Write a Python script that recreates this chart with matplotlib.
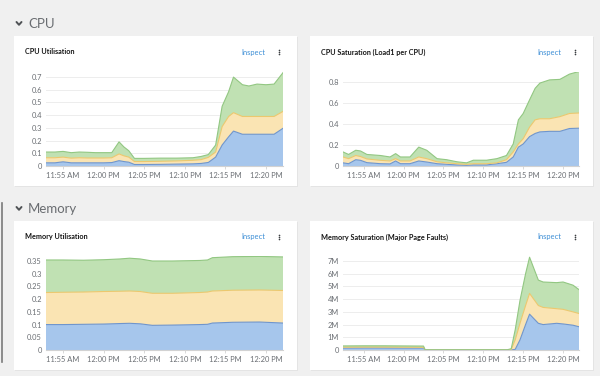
import numpy as np
import matplotlib
matplotlib.use("Agg")
import matplotlib.pyplot as plt
from matplotlib.patches import Rectangle
from matplotlib.ticker import FuncFormatter

plt.rcParams['font.family'] = ['Lato', 'DejaVu Sans']

# ---------------- data (x = minutes after 11:55 AM) ----------------
tick_pos = [0, 5, 10, 15, 20, 25]
tick_labels = ["11:55 AM", "12:00 PM", "12:05 PM", "12:10 PM", "12:15 PM", "12:20 PM"]

cpu_util_t = [-2.1, -1, 0, 1, 2, 3, 4, 5, 6, 6.9, 7.5, 8.1, 8.8, 10, 12, 14, 16, 17,
              17.9, 18.8, 19.6, 20.4, 21.0, 22.1, 22.9, 23.9, 25, 26.0, 27.1]
cpu_util_blue = [0.025, 0.025, 0.033, 0.025, 0.025, 0.025, 0.025, 0.025, 0.027, 0.042, 0.035,
                 0.030, 0.012, 0.012, 0.013, 0.015, 0.017, 0.020, 0.028, 0.070, 0.165, 0.230,
                 0.275, 0.250, 0.250, 0.250, 0.250, 0.250, 0.297]
cpu_util_yellow = [0.040, 0.040, 0.037, 0.037, 0.040, 0.038, 0.038, 0.038, 0.038, 0.053, 0.045,
                   0.040, 0.023, 0.023, 0.024, 0.025, 0.028, 0.030, 0.040, 0.040, 0.145, 0.160,
                   0.145, 0.140, 0.140, 0.140, 0.140, 0.140, 0.133]
cpu_util_green = [0.045, 0.045, 0.045, 0.043, 0.045, 0.045, 0.042, 0.042, 0.040, 0.095, 0.070,
                  0.050, 0.025, 0.025, 0.025, 0.022, 0.020, 0.025, 0.022, 0.055, 0.160, 0.195,
                  0.280, 0.250, 0.240, 0.255, 0.250, 0.255, 0.305]

cpu_sat_t = [-2.6, -1.9, -1.0, -0.4, 0.4, 2.1, 3.3, 4.0, 4.6, 5.8, 6.9, 7.9, 9.2, 10.4, 11.7,
             12.9, 13.75, 15.4, 16.7, 17.9, 18.75, 19.4, 20.0, 20.8, 21.5, 22.1, 23.3, 24.6,
             25.8, 27.0]
cpu_sat_blue = [0.030, 0.022, 0.060, 0.054, 0.032, 0.022, 0.020, 0.048, 0.022, 0.022, 0.048,
                0.038, 0.022, 0.016, 0.010, 0.006, 0.010, 0.010, 0.022, 0.035, 0.086, 0.180,
                0.210, 0.280, 0.310, 0.325, 0.330, 0.330, 0.357, 0.360]
cpu_sat_yellow = [0.056, 0.048, 0.040, 0.036, 0.035, 0.032, 0.028, 0.022, 0.026, 0.026, 0.038,
                  0.032, 0.018, 0.014, 0.012, 0.010, 0.012, 0.012, 0.008, 0.025, 0.048, 0.030,
                  0.050, 0.090, 0.130, 0.125, 0.120, 0.140, 0.143, 0.145]
cpu_sat_green = [0.048, 0.040, 0.050, 0.053, 0.043, 0.046, 0.038, 0.048, 0.038, 0.038, 0.094,
                 0.080, 0.030, 0.030, 0.018, 0.014, 0.033, 0.033, 0.040, 0.040, 0.076, 0.230,
                 0.240, 0.260, 0.300, 0.340, 0.370, 0.355, 0.375, 0.395]

mem_util_t = [-2.1, 0, 2.5, 5, 7, 8.2, 9.5, 11, 13.5, 16.8, 17.8, 18.4, 20.9, 24.2, 27.1]
mem_util_blue = [0.100, 0.100, 0.101, 0.102, 0.104, 0.105, 0.103, 0.097, 0.098, 0.100, 0.101,
                 0.106, 0.109, 0.110, 0.106]
mem_util_yellow = [0.126, 0.127, 0.127, 0.128, 0.127, 0.127, 0.127, 0.126, 0.125, 0.126, 0.127,
                   0.126, 0.126, 0.126, 0.128]
mem_util_green = [0.128, 0.127, 0.125, 0.125, 0.127, 0.129, 0.128, 0.127, 0.127, 0.126, 0.126,
                  0.131, 0.132, 0.132, 0.132]

# Memory saturation in millions
mem_sat_t = [-2.6, 0, 2.5, 5, 7.5, 7.7, 10, 14, 18.0, 18.5, 19.0, 19.6, 20.3, 20.8, 21.9, 22.5,
             24.2, 25, 26.25, 27.0]
mem_sat_blue = [0.15, 0.16, 0.16, 0.15, 0.15, 0.005, 0.005, 0.005, 0.005, 0.005, 0.05, 0.8, 2.0,
                2.82, 2.1, 2.0, 2.1, 2.05, 1.95, 1.83]
mem_sat_yellow = [0.07, 0.07, 0.07, 0.07, 0.06, 0.005, 0.005, 0.005, 0.005, 0.045, 0.75, 1.3,
                  1.5, 1.63, 1.4, 1.35, 1.15, 1.15, 1.05, 1.04]
mem_sat_green = [0.10, 0.10, 0.10, 0.10, 0.10, 0.01, 0.01, 0.01, 0.01, 0.05, 0.8, 1.8, 2.5,
                 2.85, 2.0, 2.0, 2.05, 2.15, 2.1, 1.88]

# ---------------- style ----------------
W, H = 600, 376
BG = "#f0f0f0"
FILLS = ["#a6c6ec", "#fae4b3", "#c0e1b3"]
EDGES = ["#6f95cc", "#ecc86e", "#92c782"]
TXT = "#151515"
TICK = "#6a6e73"
GRID = "#ededed"
LINK = "#3d8fd6"

fig = plt.figure(figsize=(W / 100, H / 100), dpi=100)
fig.patch.set_facecolor(BG)

bg = fig.add_axes([0, 0, 1, 1])
bg.set_xlim(0, W)
bg.set_ylim(H, 0)
bg.axis("off")
bg.set_zorder(0)

# left scroll indicator
bg.plot([2, 2], [203, 362], color="#7a7a7a", lw=1.2)

cards = [(14, 36, 297, 186), (310, 36, 593, 186), (14, 221, 297, 370), (310, 221, 593, 370)]
for x0, y0, x1, y1 in cards:
    bg.add_patch(Rectangle((x0 + 0.5, y0 + 1), x1 - x0, y1 - y0, facecolor="#e4e4e4",
                           edgecolor="none"))
    bg.add_patch(Rectangle((x0, y0), x1 - x0, y1 - y0, facecolor="white", edgecolor="none"))

# section headers
for y, label in [(24, "CPU"), (209, "Memory")]:
    bg.plot([16.5, 19, 21.5], [y - 2, y + 0.8, y - 2], color="#4f5255", lw=1.4,
            solid_capstyle="round", solid_joinstyle="round")
    bg.text(28, y, label, fontsize=9.5, color="#6a6d71", va="center", ha="left")

titles = ["CPU Utilisation", "CPU Saturation (Load1 per CPU)",
          "Memory Utilisation", "Memory Saturation (Major Page Faults)"]
for (x0, y0, x1, y1), title in zip(cards, titles):
    ty = y0 + 16
    bg.text(x0 + 11, ty, title, fontsize=5.2, color=TXT, va="center", ha="left",
            fontweight="bold")
    bg.text(x1 - 44, ty, "Inspect", fontsize=5.4, color=LINK, va="center", ha="center")
    for dy in (-2.2, 0, 2.2):
        bg.plot([x1 - 18.5], [ty + dy], marker="o", ms=1.2, color="#3c3f42", mec="none")


def px_axes(x0, x1, y_top, y_bot):
    ax = fig.add_axes([x0 / W, 1 - y_bot / H, (x1 - x0) / W, (y_bot - y_top) / H])
    ax.set_zorder(2)
    ax.patch.set_alpha(0)
    return ax


def draw(ax, t, layers, xlim, ylim, yticks, yfmt):
    ax.stackplot(t, *layers, colors=FILLS, lw=0, zorder=2)
    cum = np.cumsum(np.array(layers), axis=0)
    for c, e in zip(cum, EDGES):
        ax.plot(t, c, color=e, lw=0.8, zorder=3)
    ax.set_xlim(*xlim)
    ax.set_ylim(*ylim)
    ax.set_yticks(yticks)
    ax.yaxis.set_major_formatter(FuncFormatter(yfmt))
    ax.set_xticks(tick_pos)
    ax.set_xticklabels(tick_labels)
    for s in ["top", "right", "left"]:
        ax.spines[s].set_visible(False)
    ax.spines["bottom"].set_color("#d2d2d2")
    ax.spines["bottom"].set_linewidth(0.8)
    ax.spines["bottom"].set_zorder(4)
    ax.grid(axis="y", color=GRID, lw=0.7, zorder=0)
    ax.set_axisbelow(True)
    ax.tick_params(axis="y", length=0, pad=3, labelsize=5.4, labelcolor=TICK)
    ax.tick_params(axis="x", length=2.5, width=0.6, color="#d2d2d2", pad=2,
                   labelsize=5.4, labelcolor=TICK)


def fmt_plain(v, p):
    s = ("%.2f" % v).rstrip("0").rstrip(".")
    return s


def fmt_m(v, p):
    return "0" if v == 0 else "%dM" % round(v)


ax1 = px_axes(46, 283, 166 - 0.76 * 127, 166)
draw(ax1, cpu_util_t, [cpu_util_blue, cpu_util_yellow, cpu_util_green], (-2.1, 27.1),
     (0, 0.76), [0, 0.1, 0.2, 0.3, 0.4, 0.5, 0.6, 0.7], fmt_plain)

ax2 = px_axes(343, 579, 166 - 0.9 * 105, 166)
draw(ax2, cpu_sat_t, [cpu_sat_blue, cpu_sat_yellow, cpu_sat_green], (-2.6, 27.0),
     (0, 0.9), [0, 0.2, 0.4, 0.6, 0.8], fmt_plain)

ax3 = px_axes(46, 283, 350 - 0.37 * 254.3, 350)
draw(ax3, mem_util_t, [mem_util_blue, mem_util_yellow, mem_util_green], (-2.1, 27.1),
     (0, 0.37), [0, 0.05, 0.1, 0.15, 0.2, 0.25, 0.3, 0.35], fmt_plain)

ax4 = px_axes(343, 579, 350 - 7.4 * 12.71, 350)
draw(ax4, mem_sat_t, [mem_sat_blue, mem_sat_yellow, mem_sat_green], (-2.6, 27.0),
     (0, 7.4), [0, 1, 2, 3, 4, 5, 6, 7], fmt_m)

fig.savefig("out.png", dpi=100, facecolor=BG)
